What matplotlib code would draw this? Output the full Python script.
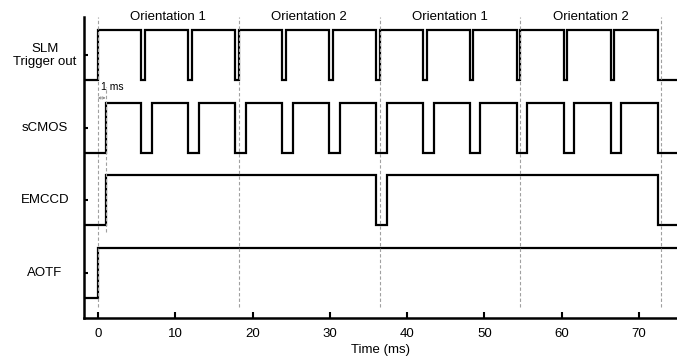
import matplotlib
matplotlib.use("Agg")
import matplotlib.pyplot as plt
from matplotlib.transforms import blended_transform_factory

plt.rcParams["font.family"] = ["Liberation Sans", "DejaVu Sans"]

# %% data: edge times (ms)
channels = ["SLM\nTrigger out", "sCMOS", "EMCCD", "AOTF"]

slm_rise = [0.0, 6.07, 12.14, 18.22, 24.29, 30.36, 36.44, 42.51, 48.58, 54.65, 60.72, 66.80]
slm_fall = [5.62, 11.69, 17.77, 23.84, 29.91, 35.99, 42.06, 48.13, 54.20, 60.27, 66.35, 72.42]

scmos_rise = [1.0, 6.97, 13.04, 19.12, 25.19, 31.26, 37.34, 43.41, 49.48, 55.55, 61.62, 67.70]
scmos_fall = [5.62, 11.69, 17.77, 23.84, 29.91, 35.99, 42.06, 48.13, 54.20, 60.27, 66.35, 72.42]

emccd_rise = [1.0, 37.34]
emccd_fall = [35.99, 72.42]

aotf_rise = [0.0]
aotf_fall = []

orient_edges = [0.0, 18.22, 36.44, 54.65, 72.87]
orient_labels = ["Orientation 1", "Orientation 2", "Orientation 1", "Orientation 2"]

xticks = [0, 10, 20, 30, 40, 50, 60, 70]

# %% plot
XMIN, XMAX = -1.8, 74.9
offsets = [4.35, 2.9, 1.45, 0.0]


def waveform(rises, falls):
    edges = sorted([(t, 1) for t in rises] + [(t, 0) for t in falls])
    xs, ys = [XMIN], [0]
    level = 0
    for t, new in edges:
        xs += [t, t]
        ys += [level, new]
        level = new
    xs.append(XMAX)
    ys.append(level)
    return xs, ys


signals = [(slm_rise, slm_fall), (scmos_rise, scmos_fall),
           (emccd_rise, emccd_fall), (aotf_rise, aotf_fall)]

fig = plt.figure(figsize=(6.77, 3.6), dpi=100)
ax = fig.add_axes([0.124, 0.1167, 0.876, 0.8363])

for (r, f), off in zip(signals, offsets):
    xs, ys = waveform(r, f)
    ax.plot(xs, [y + off for y in ys], color="black", lw=1.6,
            solid_joinstyle="miter", zorder=2)

# orientation boundaries
for t in orient_edges:
    ax.plot([t, t], [-0.18, 5.62], color="#a0a0a0", lw=0.8,
            dashes=(3, 2), zorder=3, clip_on=False)
for i, lab in enumerate(orient_labels):
    mid = (orient_edges[i] + orient_edges[i + 1]) / 2
    ax.text(mid, 5.62, lab, ha="center", va="center", fontsize=9.5,
            clip_on=False)

# 1 ms delay marker
ax.plot([1.0, 1.0], [1.32, 4.22], color="#a0a0a0", lw=0.8,
        dashes=(3, 2), zorder=3)
ax.annotate("", xy=(0.0, 4.0), xytext=(1.0, 4.0),
            arrowprops=dict(arrowstyle="<->", color="#888888", lw=0.6,
                            mutation_scale=4, shrinkA=0, shrinkB=0))
ax.text(0.39, 4.22, "1 ms", fontsize=7.5, ha="left", va="center")

ax.set_xlim(XMIN, XMAX)
ax.set_ylim(-0.4, 5.62)
ax.set_xticks(xticks)
ax.set_yticks([o + 0.5 for o in offsets])
ax.set_yticklabels([])
ax.tick_params(axis="x", direction="in", length=4, width=1.5,
               labelsize=9.5, pad=7)
ax.tick_params(axis="y", direction="in", length=3, width=1.5)
ax.set_xlabel("Time (ms)", fontsize=9.5, labelpad=3)

trans = blended_transform_factory(fig.transFigure, ax.transData)
for lab, off in zip(channels, offsets):
    fig.text(45 / 677, off + 0.5, lab, transform=trans, ha="center",
             va="center", multialignment="center", fontsize=9.5)

for s in ["top", "right"]:
    ax.spines[s].set_visible(False)
for s in ["left", "bottom"]:
    ax.spines[s].set_linewidth(1.8)

fig.savefig("out.png", dpi=100)
